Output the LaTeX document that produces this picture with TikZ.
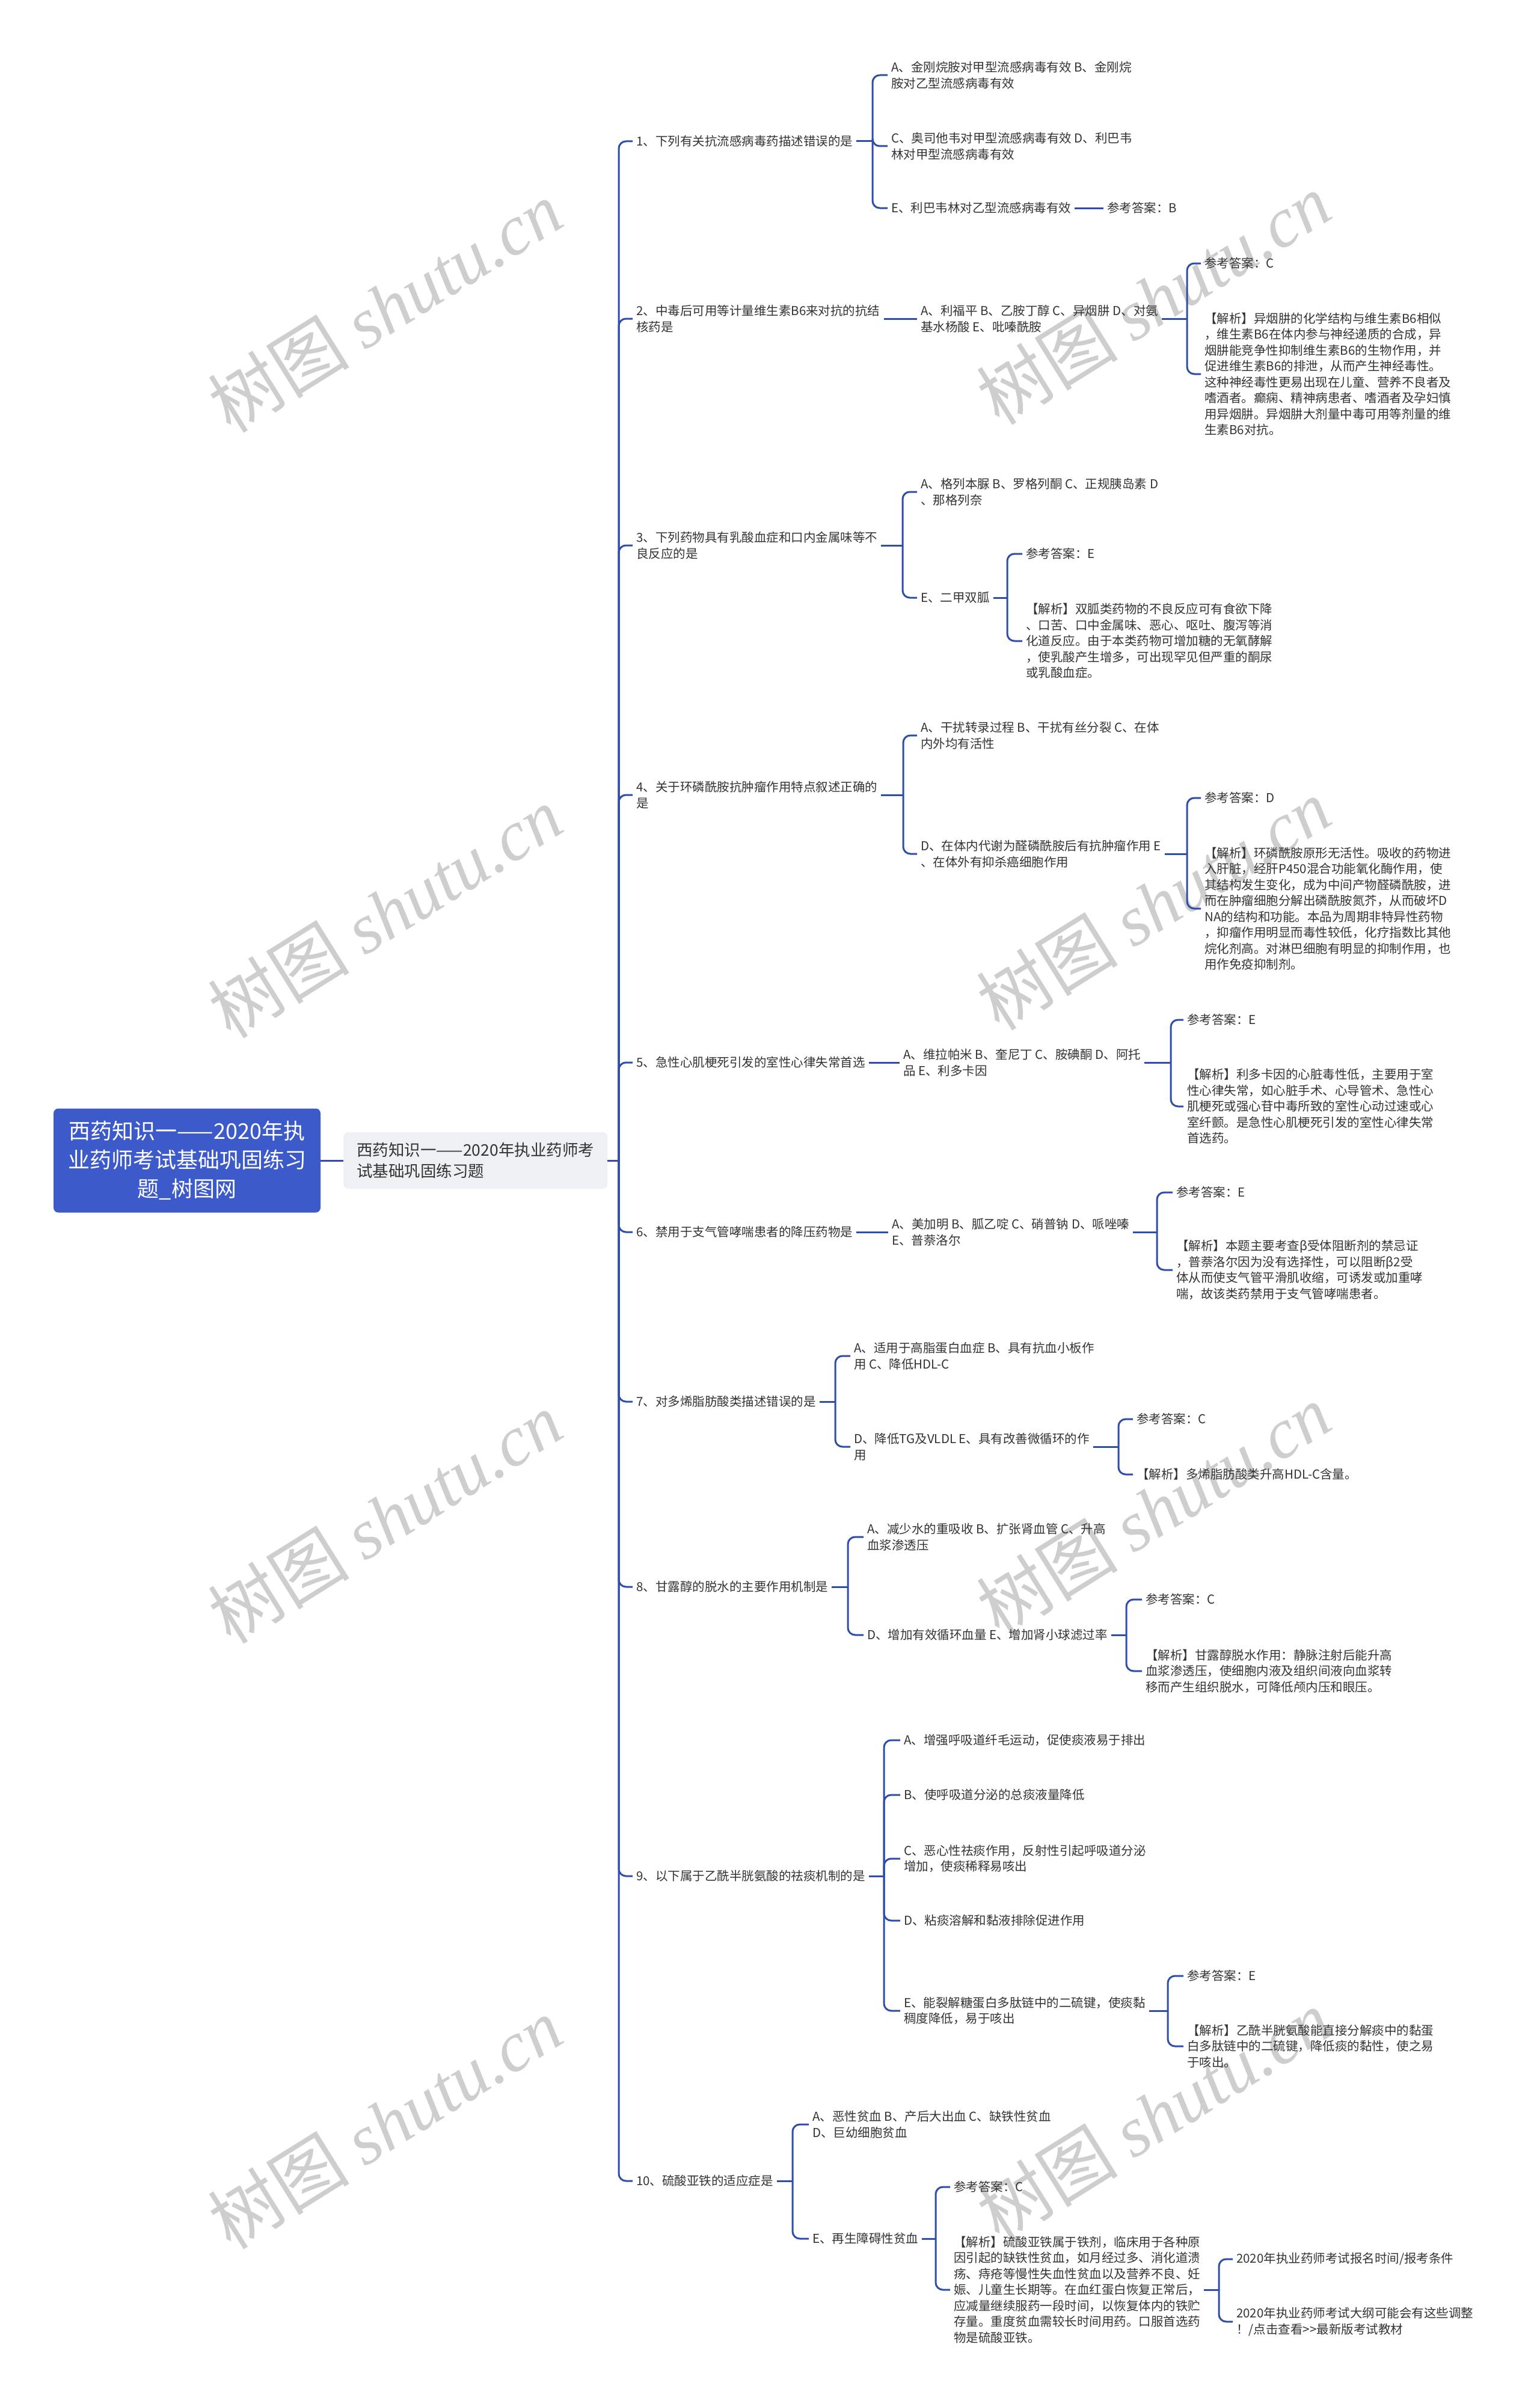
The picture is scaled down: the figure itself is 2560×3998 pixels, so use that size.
\documentclass[tikz,border=0pt]{standalone}
\usepackage{fontspec}
\setmainfont{Noto Sans CJK SC}
\newfontfamily\wmserif{Liberation Serif}
\usetikzlibrary{positioning}

\definecolor{rootblue}{RGB}{61,90,203}
\definecolor{linkblue}{RGB}{47,78,170}
\definecolor{subgray}{RGB}{238,240,244}
\definecolor{txtgray}{RGB}{51,51,51}
\definecolor{wmgray}{RGB}{206,206,206}

\tikzset{
  rootbox/.style={fill=rootblue, text=white, rounded corners=8pt, align=center,
    minimum width=444pt, minimum height=173pt, font=\fontsize{36}{48}\selectfont},
  subbox/.style={anchor=west, fill=subgray, text=txtgray, rounded corners=8pt, align=left,
    inner xsep=16pt, minimum width=439pt, minimum height=94pt, font=\fontsize{26.5}{35}\selectfont},
  leaf/.style={anchor=west, inner xsep=6pt, inner ysep=2pt, align=left, text=txtgray,
    font=\fontsize{20.5}{26.5}\selectfont},
  link/.style={draw=linkblue, line width=3pt, rounded corners=12pt},
  wmark/.style={text=wmgray, rotate=32, font=\fontsize{118}{118}\selectfont}
}

\begin{document}
\begin{tikzpicture}[x=1pt, y=-1pt]
  \useasboundingbox (0,0) rectangle (2560,3998);
  \fill[white] (0,0) rectangle (2560,3998);

  % watermark
  \foreach \wy [count=\i] in {510,1517,2524,3531} {
    \node[wmark] (wml\i) at (640,\wy) {树图 {\wmserif\itshape shutu.cn}};
    \node[wmark] (wmr\i) at (1918,\wy-13) {树图 {\wmserif\itshape shutu.cn}};
  }

  % root and first level
  \node[rootbox] (root) at (311,1930) {西药知识一——2020年执\\业药师考试基础巩固练习\\题\_树图网};
  \node[subbox] (sub) at (571,1930) {西药知识一——2020年执业药师考\\试基础巩固练习题};
  \coordinate (s0) at (1029,1930);

  % questions
  \node[leaf] (q1) at (1052,235) {1、下列有关抗流感病毒药描述错误的是};
  \node[leaf] (q2) at (1052,530) {2、中毒后可用等计量维生素B6来对抗的抗结\\核药是};
  \node[leaf] (q3) at (1052,907) {3、下列药物具有乳酸血症和口内金属味等不\\良反应的是};
  \node[leaf] (q4) at (1052,1322) {4、关于环磷酰胺抗肿瘤作用特点叙述正确的\\是};
  \node[leaf] (q5) at (1052,1767) {5、急性心肌梗死引发的室性心律失常首选};
  \node[leaf] (q6) at (1052,2049) {6、禁用于支气管哮喘患者的降压药物是};
  \node[leaf] (q7) at (1052,2331) {7、对多烯脂肪酸类描述错误的是};
  \node[leaf] (q8) at (1052,2639) {8、甘露醇的脱水的主要作用机制是};
  \node[leaf] (q9) at (1052,3120) {9、以下属于乙酰半胱氨酸的祛痰机制的是};
  \node[leaf] (q10) at (1052,3627) {10、硫酸亚铁的适应症是};

  % 1
  \node[leaf] (q1a) at (1476,125) {A、金刚烷胺对甲型流感病毒有效 B、金刚烷\\胺对乙型流感病毒有效};
  \node[leaf] (q1c) at (1476,243) {C、奥司他韦对甲型流感病毒有效 D、利巴韦\\林对甲型流感病毒有效};
  \node[leaf] (q1e) at (1476,346) {E、利巴韦林对乙型流感病毒有效};
  \node[leaf] (q1ans) at (1835,346) {参考答案：B};
  \coordinate (j1) at (1451,235);

  % 2
  \node[leaf] (q2a) at (1525,530) {A、利福平 B、乙胺丁醇 C、异烟肼 D、对氨\\基水杨酸 E、吡嗪酰胺};
  \node[leaf] (q2ans) at (1997,438) {参考答案：C};
  \node[leaf] (q2exp) at (1997,622) {【解析】异烟肼的化学结构与维生素B6相似\\，维生素B6在体内参与神经递质的合成，异\\烟肼能竞争性抑制维生素B6的生物作用，并\\促进维生素B6的排泄，从而产生神经毒性。\\这种神经毒性更易出现在儿童、营养不良者及\\嗜酒者。癫痫、精神病患者、嗜酒者及孕妇慎\\用异烟肼。异烟肼大剂量中毒可用等剂量的维\\生素B6对抗。};
  \coordinate (j2) at (1974,530);

  % 3
  \node[leaf] (q3a) at (1525,818) {A、格列本脲 B、罗格列酮 C、正规胰岛素 D\\、那格列奈};
  \node[leaf] (q3e) at (1525,994) {E、二甲双胍};
  \node[leaf] (q3ans) at (1700,921) {参考答案：E};
  \node[leaf] (q3exp) at (1700,1066) {【解析】双胍类药物的不良反应可有食欲下降\\、口苦、口中金属味、恶心、呕吐、腹泻等消\\化道反应。由于本类药物可增加糖的无氧酵解\\，使乳酸产生增多，可出现罕见但严重的酮尿\\或乳酸血症。};
  \coordinate (j3) at (1501,907);
  \coordinate (j3e) at (1675,994);

  % 4
  \node[leaf] (q4a) at (1525,1223) {A、干扰转录过程 B、干扰有丝分裂 C、在体\\内外均有活性};
  \node[leaf] (q4d) at (1525,1420) {D、在体内代谢为醛磷酰胺后有抗肿瘤作用 E\\、在体外有抑杀癌细胞作用};
  \node[leaf] (q4ans) at (1997,1327) {参考答案：D};
  \node[leaf] (q4exp) at (1997,1511) {【解析】环磷酰胺原形无活性。吸收的药物进\\入肝脏，经肝P450混合功能氧化酶作用，使\\其结构发生变化，成为中间产物醛磷酰胺，进\\而在肿瘤细胞分解出磷酰胺氮芥，从而破坏D\\NA的结构和功能。本品为周期非特异性药物\\，抑瘤作用明显而毒性较低，化疗指数比其他\\烷化剂高。对淋巴细胞有明显的抑制作用，也\\用作免疫抑制剂。};
  \coordinate (j4) at (1502,1322);
  \coordinate (j4d) at (1974,1420);

  % 5
  \node[leaf] (q5a) at (1496,1767) {A、维拉帕米 B、奎尼丁 C、胺碘酮 D、阿托\\品 E、利多卡因};
  \node[leaf] (q5ans) at (1968,1696) {参考答案：E};
  \node[leaf] (q5exp) at (1968,1840) {【解析】利多卡因的心脏毒性低，主要用于室\\性心律失常，如心脏手术、心导管术、急性心\\肌梗死或强心苷中毒所致的室性心动过速或心\\室纤颤。是急性心肌梗死引发的室性心律失常\\首选药。};
  \coordinate (j5) at (1947,1767);

  % 6
  \node[leaf] (q6a) at (1477,2049) {A、美加明 B、胍乙啶 C、硝普钠 D、哌唑嗪\\E、普萘洛尔};
  \node[leaf] (q6ans) at (1950,1983) {参考答案：E};
  \node[leaf] (q6exp) at (1950,2112) {【解析】本题主要考查β受体阻断剂的禁忌证\\，普萘洛尔因为没有选择性，可以阻断β2受\\体从而使支气管平滑肌收缩，可诱发或加重哮\\喘，故该类药禁用于支气管哮喘患者。};
  \coordinate (j6) at (1924,2049);

  % 7
  \node[leaf] (q7a) at (1414,2255) {A、适用于高脂蛋白血症 B、具有抗血小板作\\用 C、降低HDL-C};
  \node[leaf] (q7d) at (1414,2406) {D、降低TG及VLDL E、具有改善微循环的作\\用};
  \node[leaf] (q7ans) at (1884,2360) {参考答案：C};
  \node[leaf] (q7exp) at (1884,2452) {【解析】多烯脂肪酸类升高HDL-C含量。};
  \coordinate (j7) at (1389,2331);
  \coordinate (j7d) at (1860,2406);

  % 8
  \node[leaf] (q8a) at (1436,2556) {A、减少水的重吸收 B、扩张肾血管 C、升高\\血浆渗透压};
  \node[leaf] (q8d) at (1436,2719) {D、增加有效循环血量 E、增加肾小球滤过率};
  \node[leaf] (q8ans) at (1899,2660) {参考答案：C};
  \node[leaf] (q8exp) at (1899,2779) {【解析】甘露醇脱水作用：静脉注射后能升高\\血浆渗透压，使细胞内液及组织间液向血浆转\\移而产生组织脱水，可降低颅内压和眼压。};
  \coordinate (j8) at (1410,2639);
  \coordinate (j8d) at (1873,2719);

  % 9
  \node[leaf] (q9a) at (1497,2894) {A、增强呼吸道纤毛运动，促使痰液易于排出};
  \node[leaf] (q9b) at (1497,2985) {B、使呼吸道分泌的总痰液量降低};
  \node[leaf] (q9c) at (1497,3091) {C、恶心性祛痰作用，反射性引起呼吸道分泌\\增加，使痰稀释易咳出};
  \node[leaf] (q9d) at (1497,3194) {D、粘痰溶解和黏液排除促进作用};
  \node[leaf] (q9e) at (1497,3344) {E、能裂解糖蛋白多肽链中的二硫键，使痰黏\\稠度降低，易于咳出};
  \node[leaf] (q9ans) at (1968,3286) {参考答案：E};
  \node[leaf] (q9exp) at (1968,3403) {【解析】乙酰半胱氨酸能直接分解痰中的黏蛋\\白多肽链中的二硫键，降低痰的黏性，使之易\\于咳出。};
  \coordinate (j9) at (1470,3120);
  \coordinate (j9e) at (1942,3344);

  % 10
  \node[leaf] (q10a) at (1345,3533) {A、恶性贫血 B、产后大出血 C、缺铁性贫血\\D、巨幼细胞贫血};
  \node[leaf] (q10e) at (1345,3723) {E、再生障碍性贫血};
  \node[leaf] (q10ans) at (1580,3637) {参考答案：C};
  \node[leaf] (q10exp) at (1580,3808) {【解析】硫酸亚铁属于铁剂，临床用于各种原\\因引起的缺铁性贫血，如月经过多、消化道溃\\疡、痔疮等慢性失血性贫血以及营养不良、妊\\娠、儿童生长期等。在血红蛋白恢复正常后，\\应减量继续服药一段时间，以恢复体内的铁贮\\存量。重度贫血需较长时间用药。口服首选药\\物是硫酸亚铁。};
  \node[leaf] (q10l1) at (2050,3757) {2020年执业药师考试报名时间/报考条件};
  \node[leaf] (q10l2) at (2050,3861) {2020年执业药师考试大纲可能会有这些调整\\！/点击查看{>}{>}最新版考试教材};
  \coordinate (j10) at (1318,3627);
  \coordinate (j10e) at (1556,3723);
  \coordinate (j10x) at (2027,3808);

  % connectors
  \draw[link] (root) -- (sub);
  \draw[link] (sub.east) -- (s0);
  \foreach \i in {1,...,10} \draw[link] (s0) |- (q\i.west);

  \draw[link] (q1.east) -- (j1);
  \foreach \c in {q1a,q1c,q1e} \draw[link] (j1) |- (\c.west);
  \draw[link] (q1e) -- (q1ans);

  \draw[link] (q2) -- (q2a);
  \draw[link] (q2a.east) -- (j2);
  \foreach \c in {q2ans,q2exp} \draw[link] (j2) |- (\c.west);

  \draw[link] (q3.east) -- (j3);
  \foreach \c in {q3a,q3e} \draw[link] (j3) |- (\c.west);
  \draw[link] (q3e.east) -- (j3e);
  \foreach \c in {q3ans,q3exp} \draw[link] (j3e) |- (\c.west);

  \draw[link] (q4.east) -- (j4);
  \foreach \c in {q4a,q4d} \draw[link] (j4) |- (\c.west);
  \draw[link] (q4d.east) -- (j4d);
  \foreach \c in {q4ans,q4exp} \draw[link] (j4d) |- (\c.west);

  \draw[link] (q5) -- (q5a);
  \draw[link] (q5a.east) -- (j5);
  \foreach \c in {q5ans,q5exp} \draw[link] (j5) |- (\c.west);

  \draw[link] (q6) -- (q6a);
  \draw[link] (q6a.east) -- (j6);
  \foreach \c in {q6ans,q6exp} \draw[link] (j6) |- (\c.west);

  \draw[link] (q7.east) -- (j7);
  \foreach \c in {q7a,q7d} \draw[link] (j7) |- (\c.west);
  \draw[link] (q7d.east) -- (j7d);
  \foreach \c in {q7ans,q7exp} \draw[link] (j7d) |- (\c.west);

  \draw[link] (q8.east) -- (j8);
  \foreach \c in {q8a,q8d} \draw[link] (j8) |- (\c.west);
  \draw[link] (q8d.east) -- (j8d);
  \foreach \c in {q8ans,q8exp} \draw[link] (j8d) |- (\c.west);

  \draw[link] (q9.east) -- (j9);
  \foreach \c in {q9a,q9b,q9c,q9d,q9e} \draw[link] (j9) |- (\c.west);
  \draw[link] (q9e.east) -- (j9e);
  \foreach \c in {q9ans,q9exp} \draw[link] (j9e) |- (\c.west);

  \draw[link] (q10.east) -- (j10);
  \foreach \c in {q10a,q10e} \draw[link] (j10) |- (\c.west);
  \draw[link] (q10e.east) -- (j10e);
  \foreach \c in {q10ans,q10exp} \draw[link] (j10e) |- (\c.west);
  \draw[link] (q10exp.east) -- (j10x);
  \foreach \c in {q10l1,q10l2} \draw[link] (j10x) |- (\c.west);
\end{tikzpicture}
\end{document}
